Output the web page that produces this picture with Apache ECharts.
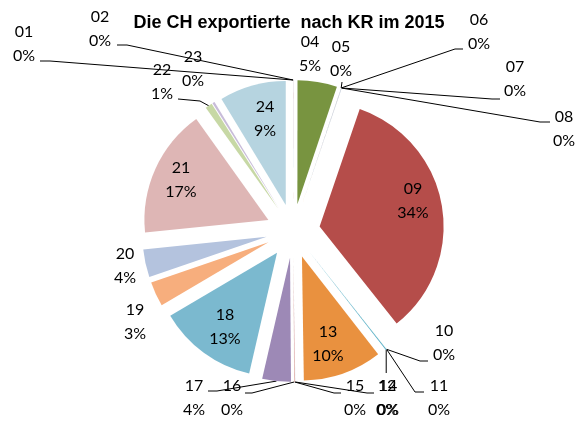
<!DOCTYPE html>
<html><head><meta charset="utf-8">
<script src="https://cdn.jsdelivr.net/npm/echarts@6/dist/echarts.min.js"></script>
<style>html,body{margin:0;padding:0;background:#fff}#c{width:578px;height:421px}</style>
</head><body><div id="c"></div>
<script>
// ---- data ----
const titleText = 'Die CH exportierte  nach KR im 2015';
const categories = ['01','02','04','05','06','07','08','09','10','11','12','13','14','15','16','17','18','19','20','21','22','23','24'];
const shares = [0.01,0.01,5.1,0.01,0.01,0.01,0.05,33.8,0.01,0.01,0.12,10.2,0.01,0.1,0.01,3.7,12.8,3.2,3.6,16.6,0.9,0.3,8.6];

// ---- styles ----
const colors = ['#4F81BD','#C0504D','#789440','#8064A2','#4BACC6','#F79646','#B8C6DC','#B54D4A',
  '#9BBB59','#8064A2','#4BACC6','#E9913F','#95B3D7','#E0A4A3','#C3D69B','#9D89B6','#7BB9CF',
  '#F7AE7D','#B4C3DE','#DEB6B5','#C7D8A5','#C8BCD9','#B6D4E0'];
const CENTER = [293, 231];
const RADIUS = 124;
const OFFSET = 27;
// label block centres
const labelPos = {
  '01':[24,43.5],'02':[100,28.5],'04':[310,54],'05':[341,58.5],'06':[479,31.5],'07':[515,79],
  '08':[564,128.5],'09':[413,201],'10':[444,342.5],'11':[439,397.5],'12':[387,397.5],
  '13':[328,343.5],'14':[388,397.5],'15':[355,397.5],'16':[232,398],'17':[194,397.5],
  '18':[225,327],'19':[135,322],'20':[125,266],'21':[181,180],'22':[162,81.5],'23':[193,68.5],
  '24':[265,118.5]
};
// leader line bends / ends (after the slice anchor)
const leaderEnds = {
  '01':[[50,61],[40,61]], '02':[[127,45],[117,45]], '05':[[342,82]],
  '06':[[455,49],[463,49]], '07':[[492,99],[500,99]], '08':[[540,122],[550,122]],
  '10':[[420,361],[428,361]], '11':[[415,392],[424,392]], '12':[['a',373]],
  '14':[[367,393],[374,393]], '15':[[334,393],[341,393]], '16':[[252,393],[245,393]],
  '17':[[217,391],[208,391]], '22':[[200,101],[178,99]]
};

const chart = echarts.init(document.getElementById('c'), null, {renderer:'canvas'});
const option = {
  animation: false,
  backgroundColor: '#fff',
  title: {
    text: titleText, left: 'center', top: 9,
    textStyle: {fontFamily: 'Liberation Sans', fontWeight: 'bold', fontSize: 18, color: '#000'}
  },
  series: [
    {
      type: 'pie', center: CENTER, radius: RADIUS, silent: true,
      selectedMode: 'multiple', selectedOffset: OFFSET,
      avoidLabelOverlap: false,
      label: {show: false}, labelLine: {show: false},
      itemStyle: {borderWidth: 0},
      emphasis: {disabled: true},
      data: categories.map((c, i) => ({name: c, value: shares[i], selected: true,
        itemStyle: {color: colors[i]}, select: {itemStyle: {color: colors[i], borderWidth: 0}}}))
    },
    {
      type: 'pie', center: CENTER, radius: RADIUS, silent: true,
      avoidLabelOverlap: false,
      itemStyle: {color: 'rgba(0,0,0,0)', borderWidth: 0},
      emphasis: {disabled: true},
      label: {
        show: true, position: 'outside',
        formatter: p => p.name + '\n' + Math.round(p.percent) + '%',
        fontFamily: 'Lato', fontSize: 16, lineHeight: 24, color: '#000', align: 'center'
      },
      labelLine: {show: true, length: 10, length2: 10, smooth: false, lineStyle: {color: '#000', width: 1}},
      labelLayout: function (p) {
        const name = categories[p.dataIndex];
        const pos = labelPos[name];
        const res = {x: pos[0], y: pos[1], align: 'center', verticalAlign: 'middle'};
        const ends = leaderEnds[name];
        if (ends && p.labelLinePoints) {
          const p0 = p.labelLinePoints[0];
          const k = (RADIUS + OFFSET) / RADIUS;
          const ax = CENTER[0] + (p0[0] - CENTER[0]) * k;
          const ay = CENTER[1] + (p0[1] - CENTER[1]) * k;
          const pts = [[ax, ay]];
          ends.forEach(e => pts.push([e[0] === 'a' ? ax : e[0], e[1]]));
          res.labelLinePoints = pts;
        }
        return res;
      },
      data: categories.map((c, i) => ({name: c, value: shares[i], labelLine: {show: !!leaderEnds[c]}}))
    }
  ]
};
chart.setOption(option);
</script>
</body></html>
